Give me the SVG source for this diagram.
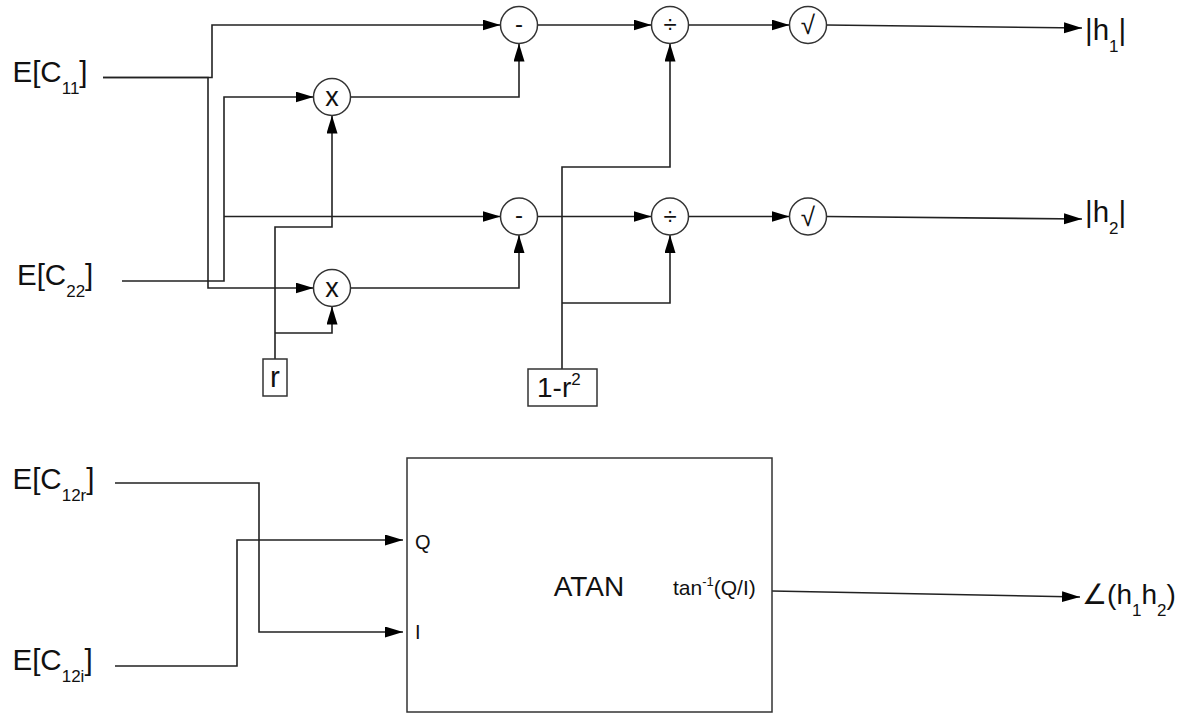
<svg xmlns="http://www.w3.org/2000/svg" width="1193" height="715" viewBox="0 0 1193 715">
<style>
text{font-family:"Liberation Sans",Arial,"DejaVu Sans",sans-serif;fill:#111}
.lbl{font-size:29.5px}
.sub{font-size:17px}
.op{fill:#fff;stroke:#333;stroke-width:1.5}
.box{fill:#fff;stroke:#333;stroke-width:1.5}
.sym{font-size:24px;text-anchor:middle}
.wire{fill:none;stroke:#222;stroke-width:1.6}
</style>
<defs>
<marker id="ah" markerUnits="userSpaceOnUse" markerWidth="20" markerHeight="12" refX="18" refY="5.5" orient="auto">
<path d="M0,0 L18,5.5 L0,11 z" fill="#000"/>
</marker>
</defs>
<rect width="1193" height="715" fill="#fff"/>
<g id="connectors">
<path class="wire" d="M103,77.5 H212 V25 H500.5" marker-end="url(#ah)"/>
<path class="wire" d="M103,77.5 H208 V288 H313.5" marker-end="url(#ah)"/>
<path class="wire" d="M122,281 H224 V97 H313.5" marker-end="url(#ah)"/>
<path class="wire" d="M224,216.5 H500.5" marker-end="url(#ah)"/>
<path class="wire" d="M275,359 V227 H332 V115.5" marker-end="url(#ah)"/>
<path class="wire" d="M275,333 H332 V306.5" marker-end="url(#ah)"/>
<path class="wire" d="M350.5,97 H519 V43.5" marker-end="url(#ah)"/>
<path class="wire" d="M350.5,288 H519 V235" marker-end="url(#ah)"/>
<path class="wire" d="M537.5,25 H651.5" marker-end="url(#ah)"/>
<path class="wire" d="M537.5,216.5 H651.5" marker-end="url(#ah)"/>
<path class="wire" d="M562,369 V167 H670 V43.5" marker-end="url(#ah)"/>
<path class="wire" d="M562,303 H670 V235" marker-end="url(#ah)"/>
<path class="wire" d="M688.5,25 H789.5" marker-end="url(#ah)"/>
<path class="wire" d="M688.5,216.5 H789.5" marker-end="url(#ah)"/>
<path class="wire" d="M826.5,25 L1082,28" marker-end="url(#ah)"/>
<path class="wire" d="M826.5,216.5 L1082,219" marker-end="url(#ah)"/>
<path class="wire" d="M115,483 H259 V632 H403" marker-end="url(#ah)"/>
<path class="wire" d="M115,666 H237 V540 H403" marker-end="url(#ah)"/>
<path class="wire" d="M772,591 L1080,597" marker-end="url(#ah)"/>
</g>
<g id="in-c11"><text class="lbl" x="12.5" y="82">E[C<tspan class="sub" dy="12">11</tspan><tspan dy="-12">]</tspan></text></g>
<g id="in-c22"><text class="lbl" x="17" y="285">E[C<tspan class="sub" dy="12">22</tspan><tspan dy="-12">]</tspan></text></g>
<g id="in-c12r"><text class="lbl" x="12.5" y="489">E[C<tspan class="sub" dy="12">12r</tspan><tspan dy="-12">]</tspan></text></g>
<g id="in-c12i"><text class="lbl" x="12.5" y="670">E[C<tspan class="sub" dy="12">12i</tspan><tspan dy="-12">]</tspan></text></g>
<g id="mul1"><circle class="op" cx="332" cy="97" r="18.5"/><text class="sym" x="332" y="106" style="font-size:27px">x</text></g>
<g id="mul2"><circle class="op" cx="332" cy="288" r="18.5"/><text class="sym" x="332" y="297" style="font-size:27px">x</text></g>
<g id="sub1"><circle class="op" cx="519" cy="25" r="18.5"/><text class="sym" x="519" y="31.5">-</text></g>
<g id="sub2"><circle class="op" cx="519" cy="216.5" r="18.5"/><text class="sym" x="519" y="223">-</text></g>
<g id="div1"><circle class="op" cx="670" cy="25" r="18.5"/><text class="sym" x="670" y="33">÷</text></g>
<g id="div2"><circle class="op" cx="670" cy="216.5" r="18.5"/><text class="sym" x="670" y="224.5">÷</text></g>
<g id="sqrt1"><circle class="op" cx="808" cy="25" r="18.5"/><text class="sym" x="808" y="34" style="font-size:26px">√</text></g>
<g id="sqrt2"><circle class="op" cx="808" cy="216.5" r="18.5"/><text class="sym" x="808" y="225.5" style="font-size:26px">√</text></g>
<g id="r"><rect class="box" x="263" y="359" width="24" height="37"/><text class="lbl" x="275" y="387" text-anchor="middle">r</text></g>
<g id="one-minus-r2"><rect class="box" x="528" y="369" width="69" height="37"/><text x="537" y="397" style="font-size:28px">1-r<tspan style="font-size:17px" dy="-12">2</tspan></text></g>
<g id="out-h1"><text class="lbl" x="1085" y="40">|h<tspan class="sub" dy="12">1</tspan><tspan dy="-12">|</tspan></text></g>
<g id="out-h2"><text class="lbl" x="1085" y="222">|h<tspan class="sub" dy="12">2</tspan><tspan dy="-12">|</tspan></text></g>
<g id="atan">
<rect class="box" x="407" y="458" width="365" height="254"/>
<text x="589" y="596" text-anchor="middle" style="font-size:28px">ATAN</text>
<text x="415" y="549" style="font-size:20px">Q</text>
<text x="415" y="639" style="font-size:20px">I</text>
<text x="673" y="595" style="font-size:21px">tan<tspan style="font-size:13px" dy="-9">-1</tspan><tspan dy="9">(Q/I)</tspan></text>
</g>
<g id="out-angle"><text x="1082" y="604" style="font-size:28px">∠(h<tspan class="sub" dy="12">1</tspan><tspan dy="-12">h</tspan><tspan class="sub" dy="12">2</tspan><tspan dy="-12">)</tspan></text></g>
</svg>
